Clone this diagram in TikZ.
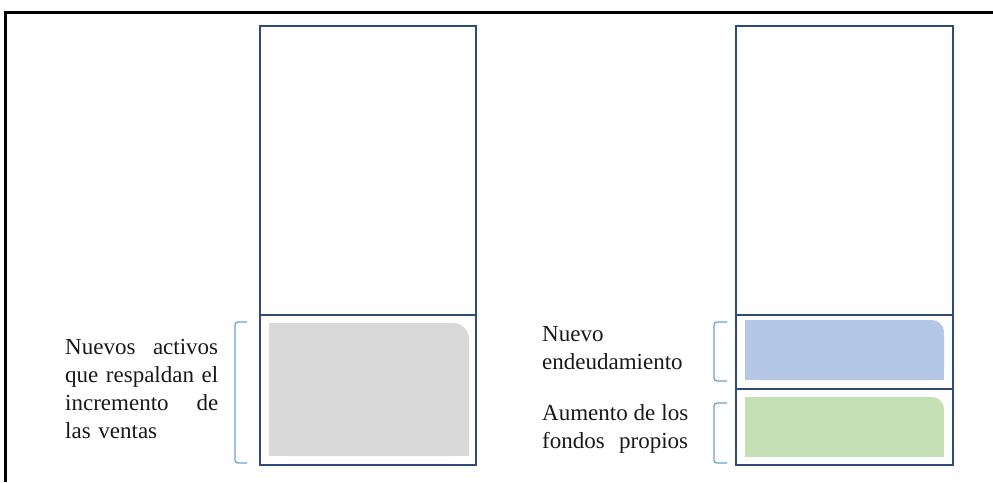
\documentclass[tikz,border=0pt]{standalone}
\usepackage{fontspec}
\setmainfont{Liberation Serif}
\definecolor{boxline}{HTML}{2F4B7C}
\definecolor{brk}{HTML}{6A9FD8}
\definecolor{fillgray}{HTML}{D9D9D9}
\definecolor{fillblue}{HTML}{B4C7E7}
\definecolor{fillgreen}{HTML}{C5E0B4}
\tikzset{
  frameline/.style={line width=3pt, black},
  boxout/.style={line width=1.9pt, draw=boxline},
  bracketline/.style={line width=1.3pt, draw=brk, rounded corners=3pt},
  label/.style={anchor=base west, inner sep=0pt, align=left,
     font=\fontsize{23}{28.3}\selectfont, text=black!90},
}
\begin{document}
\begin{tikzpicture}[x=1pt,y=-1pt]
\useasboundingbox (0,0) rectangle (993,482);
% frame
\draw[frameline] (5,482) -- (5,12) -- (993,12);

% left column
\fill[fillgray, rounded corners=16pt] (269,323) rectangle (469,456);
\fill[fillgray] (269,323) rectangle (440,456);
\fill[fillgray] (269,420) rectangle (469,456);
\draw[boxout] (260,26) rectangle (476,465);
\coordinate (lA) at (260,315);
\coordinate (lB) at (476,315);
\draw[boxout] (lA) -- (lB);
\coordinate (b1t) at (247,322);
\coordinate (b1b) at (247,463);
\draw[bracketline] (b1t) -- (235,322) -- (235,463) -- (b1b);
\node[label, text width=153pt] (t1) at (65,354)
  {Nuevos\hfill activos\\que\hfill respaldan\hfill el\\incremento\hfill de\\las ventas};

% right column
\fill[fillblue, rounded corners=12pt] (745,320) rectangle (944,380);
\fill[fillblue] (745,320) rectangle (920,380);
\fill[fillblue] (745,350) rectangle (944,380);
\fill[fillgreen, rounded corners=12pt] (745,397) rectangle (944,457);
\fill[fillgreen] (745,397) rectangle (920,457);
\fill[fillgreen] (745,425) rectangle (944,457);
\draw[boxout] (736,26) rectangle (953,465);
\coordinate (rA) at (736,315);
\coordinate (rB) at (953,315);
\coordinate (rC) at (736,389);
\coordinate (rD) at (953,389);
\draw[boxout] (rA) -- (rB);
\draw[boxout] (rC) -- (rD);
\coordinate (b2t) at (727,322);
\coordinate (b2b) at (727,381);
\draw[bracketline] (b2t) -- (714,322) -- (714,381) -- (b2b);
\coordinate (b3t) at (727,403);
\coordinate (b3b) at (727,463);
\draw[bracketline] (b3t) -- (714,403) -- (714,463) -- (b3b);
\node[label, text width=146pt] (t2) at (542,341)
  {Nuevo\\endeudamiento};
\node[label, text width=146pt] (t3) at (542,420)
  {Aumento\hfill de\hfill los\\fondos\hfill propios};
\end{tikzpicture}
\end{document}
